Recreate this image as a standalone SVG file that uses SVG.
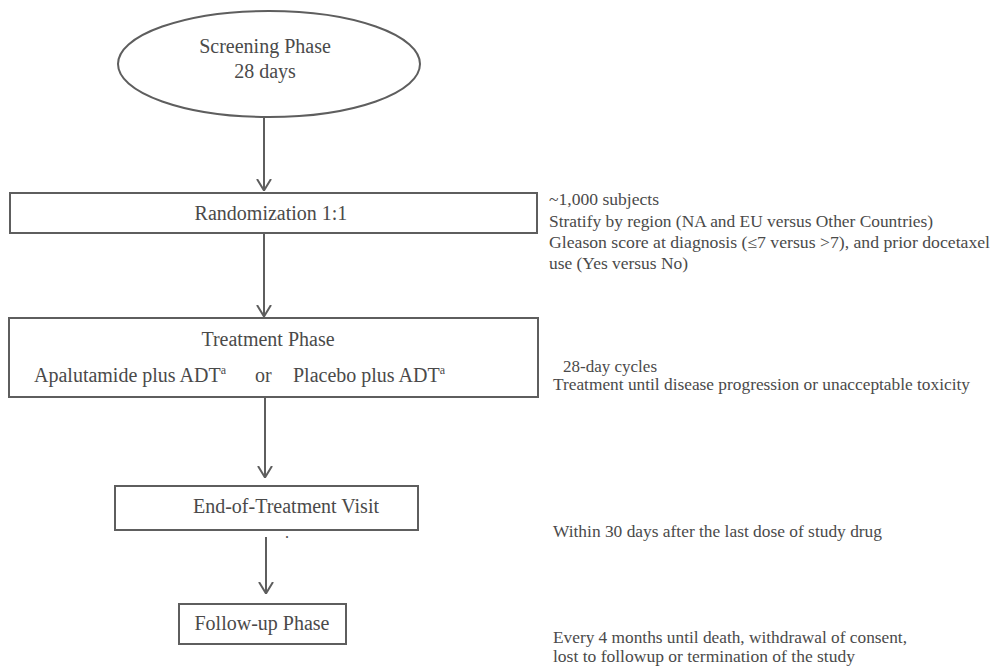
<svg xmlns="http://www.w3.org/2000/svg" width="993" height="671" viewBox="0 0 993 671">
<defs>
<style>
.box{fill:#fff;stroke:#5e5e5e;stroke-width:2}
.t{font-family:"Liberation Serif","Times New Roman",serif;fill:#4a4a4a;font-size:20px}
.c{text-anchor:middle}
.n{font-family:"Liberation Serif","Times New Roman",serif;fill:#4a4a4a;font-size:16px}
.ln{stroke:#5e5e5e;stroke-width:2;fill:none}
</style>
<marker id="ah" viewBox="0 0 12 16" refX="12" refY="8" markerWidth="12" markerHeight="16" markerUnits="userSpaceOnUse" orient="auto">
<path d="M0,1 L11.5,8 L0,15" fill="none" stroke="#5e5e5e" stroke-width="2"/>
</marker>
</defs>
<rect width="993" height="671" fill="#fff"/>
<g id="connectors">
<line class="ln" x1="264" y1="117" x2="264" y2="191" marker-end="url(#ah)"/>
<line class="ln" x1="264" y1="234" x2="264" y2="317" marker-end="url(#ah)"/>
<line class="ln" x1="265" y1="397" x2="265" y2="478" marker-end="url(#ah)"/>
<line class="ln" x1="266" y1="537" x2="266" y2="594" marker-end="url(#ah)"/>
</g>
<g id="screening">
<ellipse class="box" cx="269" cy="64" rx="151" ry="53"/>
<text class="t c" x="265" y="53">Screening Phase</text>
<text class="t c" x="265" y="78">28 days</text>
</g>
<g id="randomization">
<rect class="box" x="10" y="193" width="527" height="40"/>
<text class="t c" x="271" y="220">Randomization 1:1</text>
</g>
<g id="treatment">
<rect class="box" x="9" y="318" width="529" height="79"/>
<text class="t c" x="268" y="346">Treatment Phase</text>
<text class="t" x="34" y="382">Apalutamide plus ADT<tspan font-size="12" dy="-8">a</tspan></text>
<text class="t" x="255" y="382">or</text>
<text class="t" x="293" y="382">Placebo plus ADT<tspan font-size="12" dy="-8">a</tspan></text>
</g>
<g id="end-of-treatment">
<rect class="box" x="115" y="486" width="303" height="44"/>
<text class="t c" x="286" y="513">End-of-Treatment Visit</text>
<text class="n" x="285" y="538" font-size="12">.</text>
</g>
<g id="follow-up">
<rect class="box" x="179" y="604" width="167" height="40"/>
<text class="t c" x="262" y="630">Follow-up Phase</text>
</g>
<g id="notes">
<text class="n" x="549" y="205" textLength="110" lengthAdjust="spacingAndGlyphs">~1,000 subjects</text>
<text class="n" x="549" y="227" textLength="384" lengthAdjust="spacingAndGlyphs">Stratify by region (NA and  EU versus Other Countries)</text>
<text class="n" x="549" y="248" textLength="441" lengthAdjust="spacingAndGlyphs">Gleason score at diagnosis (≤7 versus &gt;7), and  prior docetaxel</text>
<text class="n" x="549" y="269" textLength="139" lengthAdjust="spacingAndGlyphs">use (Yes versus No)</text>
<text class="n" x="563" y="372" textLength="94" lengthAdjust="spacingAndGlyphs">28-day cycles</text>
<text class="n" x="553" y="390" textLength="417" lengthAdjust="spacingAndGlyphs">Treatment until disease progression or unacceptable toxicity</text>
<text class="n" x="553" y="537" textLength="329" lengthAdjust="spacingAndGlyphs">Within 30 days after the last dose of study drug</text>
<text class="n" x="553" y="643" textLength="354" lengthAdjust="spacingAndGlyphs">Every 4 months until death, withdrawal of consent,</text>
<text class="n" x="553" y="662" textLength="302" lengthAdjust="spacingAndGlyphs">lost to followup or termination of the study</text>
</g>
</svg>
